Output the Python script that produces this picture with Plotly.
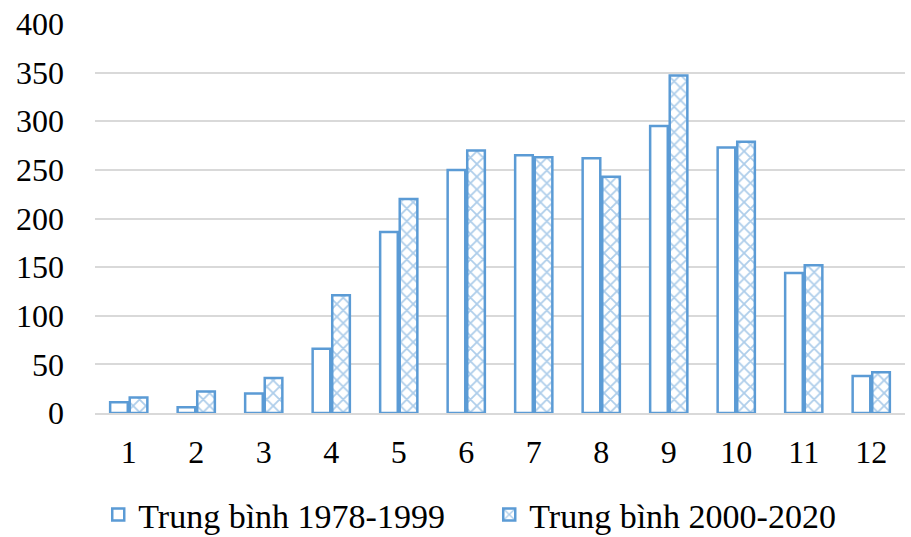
import plotly.graph_objects as go

months = ["1", "2", "3", "4", "5", "6", "7", "8", "9", "10", "11", "12"]
avg_1978_1999 = [11, 6, 20, 66, 186, 250, 265, 262, 295, 273, 144, 38]
avg_2000_2020 = [16, 22, 36, 121, 220, 270, 263, 243, 347, 279, 152, 42]
y_ticks = [0, 50, 100, 150, 200, 250, 300, 350, 400]

blue = "#5B9BD5"
font = "Liberation Serif, Times New Roman, serif"

fig = go.Figure()
fig.add_trace(go.Bar(
    x=months, y=avg_1978_1999, name="Trung bình 1978-1999",
    marker=dict(color="white", line=dict(color=blue, width=2.5)),
))
fig.add_trace(go.Bar(
    x=months, y=avg_2000_2020, name="Trung bình 2000-2020",
    marker=dict(color="white", line=dict(color=blue, width=2.5),
                pattern=dict(shape="x", fgcolor=blue, bgcolor="white", size=9, solidity=0.35)),
))

fig.update_layout(
    width=911, height=537,
    margin=dict(l=95, r=6, t=24, b=124, autoexpand=False),
    paper_bgcolor="white", plot_bgcolor="white",
    barmode="group", bargap=0.42, bargroupgap=0.1,
    font=dict(family=font, size=32, color="#000000"),
    showlegend=True,
    legend=dict(orientation="h", x=0.004, xanchor="left", y=-0.262, yanchor="middle",
                font=dict(size=34), entrywidth=346, entrywidthmode="pixels",
                itemwidth=30, tracegroupgap=0, bgcolor="rgba(0,0,0,0)"),
)
fig.update_xaxes(showgrid=False, showline=True, linecolor="#D9D9D9", linewidth=1.5,
                 ticks="", ticklabelstandoff=10)
fig.update_yaxes(range=[0, 400], tickvals=y_ticks, showgrid=True, gridcolor="#D9D9D9",
                 gridwidth=1.5, zeroline=False, showline=False, ticks="",
                 ticklabelstandoff=30)

fig.write_html("out.html")
